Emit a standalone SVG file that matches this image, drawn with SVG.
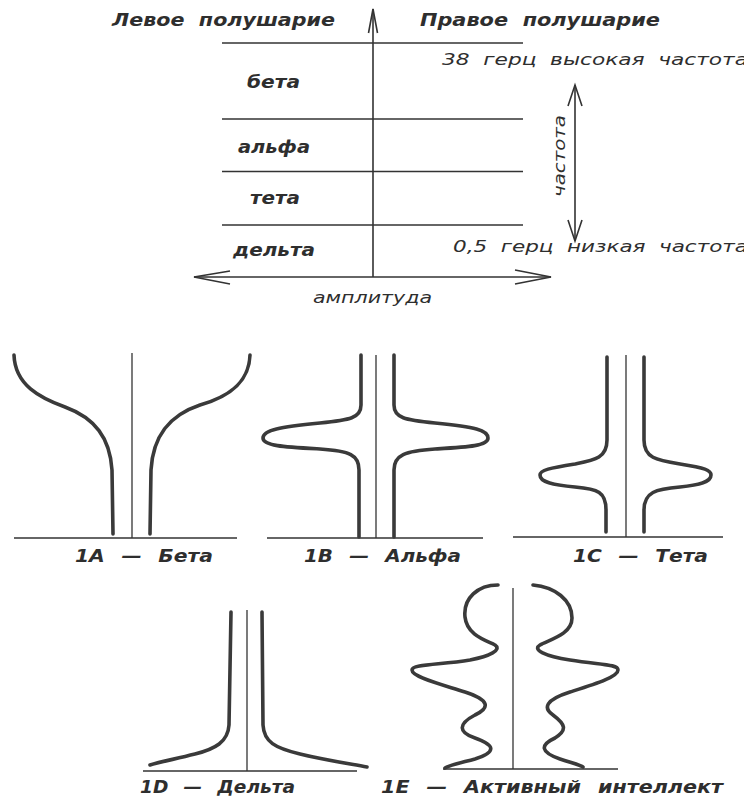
<svg xmlns="http://www.w3.org/2000/svg" width="744" height="798" viewBox="0 0 744 798">
<style>
text{font-family:"DejaVu Sans","Liberation Sans",sans-serif;fill:#2e2e2e;font-style:oblique}
.b{font-weight:bold;font-size:17px}
.n{font-size:16px}
.thin{stroke:#333;stroke-width:1.3;fill:none}
.ax{stroke:#333;stroke-width:1.6;fill:none}
.curve{stroke:#3a3a3a;stroke-width:3.6;fill:none;stroke-linecap:round;stroke-linejoin:round}
.head{stroke:#333;stroke-width:1.6;fill:none;stroke-linejoin:miter}
</style>
<rect width="744" height="798" fill="#fff"/>

<g id="scale">
  <text class="b" x="112" y="26" textLength="223" lengthAdjust="spacingAndGlyphs" word-spacing="6">Левое полушарие</text>
  <text class="b" x="420" y="26" textLength="240" lengthAdjust="spacingAndGlyphs" word-spacing="6">Правое полушарие</text>
  <text class="b" x="247" y="88" textLength="53" lengthAdjust="spacingAndGlyphs">бета</text>
  <text class="b" x="238" y="153" textLength="72" lengthAdjust="spacingAndGlyphs">альфа</text>
  <text class="b" x="250" y="204" textLength="50" lengthAdjust="spacingAndGlyphs">тета</text>
  <text class="b" x="233" y="256" textLength="82" lengthAdjust="spacingAndGlyphs">дельта</text>
  <text class="n" x="442" y="65" textLength="306" lengthAdjust="spacingAndGlyphs" word-spacing="5">38 герц высокая частота</text>
  <text class="n" x="453" y="252" textLength="295" lengthAdjust="spacingAndGlyphs" word-spacing="5">0,5 герц низкая частота</text>
  <text class="n" x="313" y="303" textLength="119" lengthAdjust="spacingAndGlyphs">амплитуда</text>
  <text class="n" transform="translate(565,197) rotate(-90)" x="0" y="0" textLength="82" lengthAdjust="spacingAndGlyphs">частота</text>
</g>

<g id="connectors">
  <line class="thin" x1="222" y1="43" x2="523" y2="43"/>
  <line class="thin" x1="222" y1="119" x2="523" y2="119"/>
  <line class="thin" x1="222" y1="171.5" x2="523" y2="171.5"/>
  <line class="thin" x1="222" y1="225" x2="523" y2="225"/>
  <line class="ax" x1="373" y1="9" x2="373" y2="277"/>
  <polyline class="head" points="368.5,33 373,9 377.5,33"/>
  <line class="ax" x1="194" y1="277" x2="551" y2="277"/>
  <polyline class="head" points="230,271 194,277 230,284"/>
  <polyline class="head" points="515,270 551,277 515,284"/>
  <line class="ax" x1="575" y1="85" x2="575" y2="241"/>
  <polyline class="head" points="568,106 575,85 582,106"/>
  <polyline class="head" points="568,220 575,241 582,220"/>
</g>

<g id="fig-1A">
  <line class="thin" x1="14" y1="538" x2="237" y2="538"/>
  <line class="thin" x1="132" y1="353" x2="132" y2="538"/>
  <path class="curve" d="M14,355 C15,385 40,398 65,407 C95,418 110,438 112,470 L113,534"/>
  <path class="curve" d="M250,355 C249,385 225,398 200,405 C170,415 153,435 151,470 L150,534"/>
  <text class="b" x="75" y="562" textLength="138" lengthAdjust="spacingAndGlyphs" word-spacing="8">1A — Бета</text>
</g>

<g id="fig-1B">
  <line class="thin" x1="267" y1="538" x2="483" y2="538"/>
  <line class="thin" x1="376" y1="355" x2="376" y2="538"/>
  <path class="curve" d="M361,355 L361,405 C361,418 350,420 320,423 C280,427 263,430 263,438 C263,446 285,447 320,449 C350,451 359,455 359,470 L359,537"/>
  <path class="curve" d="M394,355 L394,405 C394,418 405,420 435,423 C475,427 488,430 488,438 C488,446 468,447 435,449 C405,451 394,455 394,470 L394,537"/>
  <text class="b" x="304" y="562" textLength="157" lengthAdjust="spacingAndGlyphs" word-spacing="8">1B — Альфа</text>
</g>

<g id="fig-1C">
  <line class="thin" x1="513" y1="537" x2="723" y2="537"/>
  <line class="thin" x1="626" y1="355" x2="626" y2="537"/>
  <path class="curve" d="M607,357 L607,440 C607,458 595,460 575,464 C550,468 540,470 540,475 C540,482 552,485 575,487 C598,489 606,492 606,510 L606,532"/>
  <path class="curve" d="M644,357 L644,440 C644,458 656,460 680,464 C705,468 711,470 711,475 C711,482 700,485 680,487 C656,489 644,492 644,510 L644,532"/>
  <text class="b" x="573" y="562" textLength="135" lengthAdjust="spacingAndGlyphs" word-spacing="8">1C — Тета</text>
</g>

<g id="fig-1D">
  <line class="thin" x1="143" y1="771" x2="357" y2="771"/>
  <line class="thin" x1="247" y1="610" x2="247" y2="771"/>
  <path class="curve" d="M231,612 L229,725 C228,742 215,749 195,754 C175,759 160,762 150,765"/>
  <path class="curve" d="M262,612 L263,725 C264,742 275,748 300,754 C325,760 345,763 367,767"/>
  <text class="b" x="140" y="793" textLength="155" lengthAdjust="spacingAndGlyphs" word-spacing="8">1D — Дельта</text>
</g>

<g id="fig-1E">
  <line class="thin" x1="443" y1="769" x2="618" y2="769"/>
  <line class="thin" x1="513" y1="588" x2="513" y2="769"/>
  <path class="curve" d="M498,585 C478,585 463,598 465,617 C467,635 485,640 495,645 C502,650 490,656 470,660 C440,665 412,664 412,670 C412,677 440,684 465,692 C490,700 490,708 475,715 C458,724 458,732 475,738 C495,745 497,752 475,759 C460,763 450,765 445,768"/>
  <path class="curve" d="M533,585 C555,587 572,600 572,618 C572,635 548,640 540,645 C532,650 545,656 570,660 C600,665 618,664 618,670 C618,677 595,684 570,692 C545,700 543,708 553,715 C565,724 568,730 555,738 C540,745 540,752 560,759 C572,763 580,765 583,767"/>
  <text class="b" x="381" y="793" textLength="342" lengthAdjust="spacingAndGlyphs" word-spacing="8">1E — Активный интеллект</text>
</g>
</svg>
